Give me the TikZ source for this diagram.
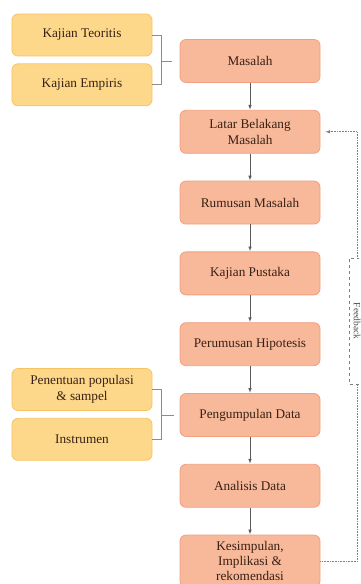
\documentclass[tikz,border=0pt]{standalone}
\usepackage{fontspec}
\setmainfont{Liberation Serif}
\usepackage{tikz}
\usetikzlibrary{positioning,arrows}
\definecolor{stepfill}{RGB}{248,184,154}
\definecolor{stepline}{RGB}{242,160,128}
\definecolor{sidefill}{RGB}{253,216,138}
\definecolor{sideline}{RGB}{247,196,100}
\definecolor{txt}{RGB}{55,32,20}

\begin{document}
\begin{tikzpicture}[
      x=1bp, y=1bp, node distance=27bp,
      stepbox/.style={draw=stepline, fill=stepfill, rounded corners=6bp, thick,
        minimum width=140bp, minimum height=43bp, align=center, text=txt,
        font=\fontsize{13.3}{16.5}\selectfont},
      sidebox/.style={draw=sideline, fill=sidefill, rounded corners=6bp, thick,
        minimum width=140bp, minimum height=42bp, align=center, text=txt,
        font=\fontsize{13.3}{16.5}\selectfont},
      post/.style={->,>=latex,shorten >=0.4pt,draw=black!65,semithick},
      brk/.style={draw=black!45,semithick},
      fb/.style={->,>=latex,draw=black!50,densely dotted,semithick,shorten >=5bp},
      fblabel/.style={draw=black!50,dashed,fill=white,minimum width=126bp,
        minimum height=16bp,inner sep=1bp,text=black!70,font=\fontsize{9.5}{9.5}\selectfont}
      ]
      \useasboundingbox (0,0) rectangle (360,-584);

      \node[stepbox] (m1) at (250,-61) {Masalah};
      \node[stepbox, below=of m1] (m2) {Latar Belakang\\Masalah};
      \node[stepbox, below=of m2] (m3) {Rumusan Masalah};
      \node[stepbox, below=of m3] (m4) {Kajian Pustaka};
      \node[stepbox, below=of m4] (m5) {Perumusan Hipotesis};
      \node[stepbox, below=of m5] (m6) {Pengumpulan Data};
      \node[stepbox, below=of m6] (m7) {Analisis Data};
      \node[stepbox, below=of m7, minimum height=52bp, inner sep=2bp,
        font=\fontsize{13.3}{15}\selectfont] (m8) {Kesimpulan,\\Implikasi \&\\rekomendasi};

      \node[sidebox] (kt) at (82,-35) {Kajian Teoritis};
      \node[sidebox, below=7bp of kt] (ke) {Kajian Empiris};
      \node[sidebox] (pp) at (82,-389.5) {Penentuan populasi\\\& sampel};
      \node[sidebox, below=7bp of pp] (in) {Instrumen};

      \draw[post] (m1)--(m2);
      \draw[post] (m2)--(m3);
      \draw[post] (m3)--(m4);
      \draw[post] (m4)--(m5);
      \draw[post] (m5)--(m6);
      \draw[post] (m6)--(m7);
      \draw[post] (m7)--(m8);

      % brackets
      \coordinate[left=18bp of m1.west] (j1);
      \coordinate[left=18bp of m6.west] (j2);
      \draw[brk] (kt.east) -| (j1) |- (ke.east);
      \draw[brk] (j1) -- ([xshift=-8bp]m1.west);
      \draw[brk] (pp.east) -| (j2) |- (in.east);
      \draw[brk] (j2) -- ([xshift=-6bp]m6.west);

      % feedback
      \coordinate[right=37bp of m8.east] (f1);
      \draw[fb] (m8.east) -- (f1) |- (m2.east);
      \node[fblabel, rotate=-90] (fb) at (357,-321) {Feedback};
    \end{tikzpicture}
\end{document}
